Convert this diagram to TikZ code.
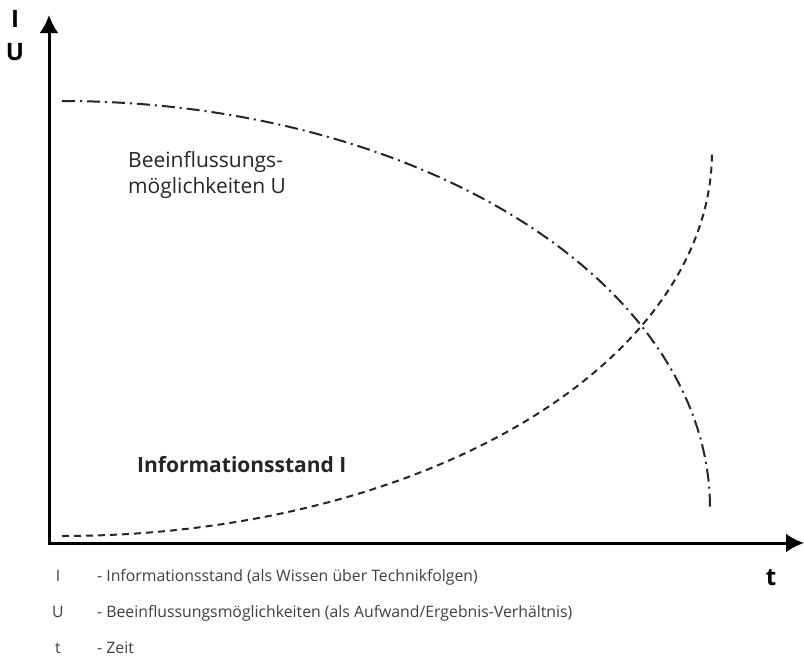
\documentclass[tikz,border=0pt]{standalone}
\usepackage{fontspec}
\setmainfont{Open Sans}
\usetikzlibrary{arrows.meta}
\begin{document}
\begin{tikzpicture}[x=1pt,y=-1pt,
  axis/.style={line width=3pt,-{Latex[length=18pt,width=19pt]}},
  ucurve/.style={line width=2pt,black!85,dash pattern=on 13pt off 5pt on 2pt off 5pt},
  icurve/.style={line width=2pt,black!85,dash pattern=on 7pt off 5pt},
  axlabel/.style={font=\fontsize{24}{28}\selectfont\bfseries,inner sep=0pt,anchor=base},
  curvelabel/.style={font=\fontsize{21}{26}\selectfont,text=black!85,inner sep=0pt,anchor=base west},
  curvelabelb/.style={font=\fontsize{21}{26}\selectfont\bfseries,text=black!85,inner sep=0pt,anchor=base west},
  legend/.style={font=\fontsize{15.8}{18}\selectfont,text=black!75,inner sep=0pt,anchor=base west},
  legendkey/.style={font=\fontsize{15.8}{18}\selectfont,text=black!75,inner sep=0pt,anchor=base}
]
\useasboundingbox (0,0) rectangle (804,657);
\fill[white] (0,0) rectangle (804,657);
% axes
\coordinate (origin) at (49,543);
\coordinate (ytip) at (49,15);
\coordinate (xtip) at (804,543);
\draw[axis] ([yshift=1.5pt]origin) -- (ytip);
\draw[axis] ([xshift=-1.5pt]origin) -- (xtip);
% axis labels
\node[axlabel] (lI) at (15,27) {I};
\node[axlabel] (lU) at (15,60) {U};
\node[axlabel] (lt) at (771,585) {t};
% curves
\draw[ucurve] plot[domain=0:90,samples=120,smooth] ({62+648*sin(\x)},{508-407*cos(\x)});
\draw[icurve] plot[domain=0:90,samples=120,smooth] ({62+650*sin(\x)},{152+384*cos(\x)});
% curve labels
\node[curvelabel] (b1) at (128,167) {Beeinflussungs-};
\node[curvelabel] (b2) at (128,193) {möglichkeiten U};
\node[curvelabelb] (inf) at (137,472) {Informationsstand I};
% legend
\node[legendkey] (k1) at (58,581) {I};
\node[legend] (d1) at (97,581) {- Informationsstand (als Wissen über Technikfolgen)};
\node[legendkey] (k2) at (58,617) {U};
\node[legend] (d2) at (97,617) {- Beeinflussungsmöglichkeiten (als Aufwand/Ergebnis-Verhältnis)};
\node[legendkey] (k3) at (58,653) {t};
\node[legend] (d3) at (97,653) {- Zeit};
\end{tikzpicture}
\end{document}
